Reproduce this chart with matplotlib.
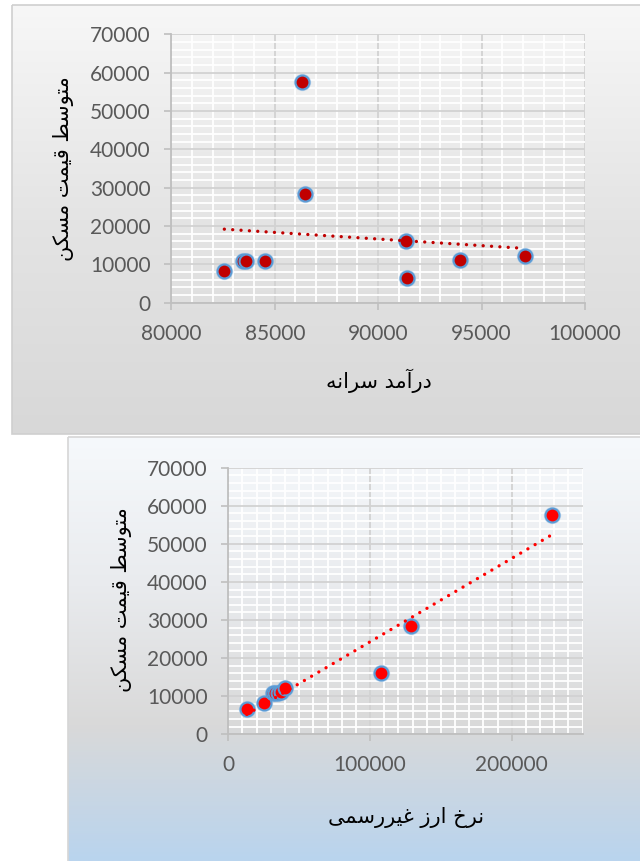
import matplotlib
matplotlib.use("Agg")
import matplotlib.pyplot as plt
from matplotlib.ticker import MultipleLocator, StrMethodFormatter
from matplotlib.patches import Rectangle
import numpy as np

# values (same house price series in both)
price = [8261, 10870, 10900, 10870, 57500, 28350, 16000, 6522, 11217, 12261]
income = [82560, 83480, 83590, 84530, 86320, 86480, 91350, 91390, 93960, 97080]
fx_rate = [25400, 31700, 33000, 35000, 228700, 129000, 107700, 13000, 37000, 40000]

ylabel_txt = "متوسط قیمت مسکن"
xlabel_top = "درآمد سرانه"
xlabel_bottom = "نرخ ارز غیررسمی"

# matplotlib has no arabic shaping, so pick presentation forms by hand
# (isolated, final, initial, medial) - None means letter does not join forward
FORMS = {
    'ا': ('\uFE8D', '\uFE8E', None, None),
    'آ': ('\uFE81', '\uFE82', None, None),
    'د': ('\uFEA9', '\uFEAA', None, None),
    'ر': ('\uFEAD', '\uFEAE', None, None),
    'ز': ('\uFEAF', '\uFEB0', None, None),
    'و': ('\uFEED', '\uFEEE', None, None),
    'ت': ('\uFE95', '\uFE96', '\uFE97', '\uFE98'),
    'خ': ('\uFEA5', '\uFEA6', '\uFEA7', '\uFEA8'),
    'س': ('\uFEB1', '\uFEB2', '\uFEB3', '\uFEB4'),
    'ط': ('\uFEC1', '\uFEC2', '\uFEC3', '\uFEC4'),
    'غ': ('\uFECD', '\uFECE', '\uFECF', '\uFED0'),
    'ق': ('\uFED5', '\uFED6', '\uFED7', '\uFED8'),
    'م': ('\uFEE1', '\uFEE2', '\uFEE3', '\uFEE4'),
    'ن': ('\uFEE5', '\uFEE6', '\uFEE7', '\uFEE8'),
    'ه': ('\uFEE9', '\uFEEA', '\uFEEB', '\uFEEC'),
    'ی': ('\uFBFC', '\uFBFD', '\uFBFE', '\uFBFF'),
    'ک': ('\uFB8E', '\uFB8F', '\uFB90', '\uFB91'),
}


def shape(s):
    out = []
    for i, ch in enumerate(s):
        if ch not in FORMS:
            out.append(ch)
            continue
        prev = s[i - 1] if i > 0 else ''
        nxt = s[i + 1] if i + 1 < len(s) else ''
        f = FORMS[ch]
        jp = prev in FORMS and FORMS[prev][2] is not None
        jn = f[2] is not None and nxt in FORMS
        if jp and jn:
            out.append(f[3])
        elif jp:
            out.append(f[1])
        elif jn:
            out.append(f[2])
        else:
            out.append(f[0])
    return ''.join(reversed(out))


plt.rcParams['font.family'] = ['Lato', 'DejaVu Sans']

W, H = 640, 861
fig = plt.figure(figsize=(6.4, 8.61), dpi=100)

# background panels (pixel coords)
bg = fig.add_axes([0, 0, 1, 1], zorder=-5)
bg.set_xlim(0, W)
bg.set_ylim(H, 0)
bg.axis('off')


def gradient(stops, n=256):
    pos = np.array([p for p, c in stops])
    cols = np.array([matplotlib.colors.to_rgb(c) for p, c in stops])
    t = np.linspace(0, 1, n)
    g = np.stack([np.interp(t, pos, cols[:, k]) for k in range(3)], axis=1)
    return g[:, None, :]


bg.imshow(gradient([(0, '#f7f7f7'), (0.5, '#e4e4e4'), (1, '#d8d8d8')]),
          extent=(12, 640, 434, 5), aspect='auto', origin='upper')
bg.add_patch(Rectangle((12, 5), 640, 429, fill=False, ec='#cfcfcf', lw=1.2))
bg.imshow(gradient([(0, '#f6f9fc'), (0.35, '#e9ebee'), (0.68, '#d9d9d9'), (1, '#b9d4ee')]),
          extent=(68, 640, 861, 437), aspect='auto', origin='upper')
bg.add_patch(Rectangle((68, 437), 640, 430, fill=False, ec='#d6d6d6', lw=1.2))
bg.set_xlim(0, W)
bg.set_ylim(H, 0)


def px_axes(left, right, top, bottom):
    return fig.add_axes([left / W, 1 - bottom / H, (right - left) / W, (bottom - top) / H])


def style(ax, xmaj, xmin):
    ax.patch.set_alpha(0)
    ax.set_axisbelow(True)
    ax.xaxis.set_major_locator(MultipleLocator(xmaj))
    ax.xaxis.set_minor_locator(MultipleLocator(xmin))
    ax.yaxis.set_major_locator(MultipleLocator(10000))
    ax.yaxis.set_minor_locator(MultipleLocator(2000))
    ax.xaxis.set_major_formatter(StrMethodFormatter('{x:.0f}'))
    ax.yaxis.set_major_formatter(StrMethodFormatter('{x:.0f}'))
    ax.grid(which='minor', color='white', lw=1.3)
    ax.grid(which='major', color='#d2d2d2', lw=1.3)
    for sp in ['top', 'right']:
        ax.spines[sp].set_visible(False)
    for sp in ['left', 'bottom']:
        ax.spines[sp].set_color('#bfbfbf')
        ax.spines[sp].set_linewidth(1.3)
    ax.tick_params(which='major', length=5, width=1.2, color='#bfbfbf',
                   labelcolor='#595959', labelsize=15, pad=10)
    ax.tick_params(which='minor', length=0)


def draw(ax, xs, ys, fill, line):
    ax.plot(xs, ys, 'o', ms=12.5, color='#9dc3e6', alpha=0.55, mew=0, zorder=3)
    ax.plot(xs, ys, 'o', ms=10, mfc=fill, mec='#5b9bd5', mew=1.5, zorder=3)
    coef = np.polyfit(xs, ys, 1)
    tx = np.array([min(xs), max(xs)])
    ax.plot(tx, np.polyval(coef, tx), color=line, lw=2.4, ls=(0, (0.01, 2.5)),
            dash_capstyle='round', zorder=4)


ax1 = px_axes(171.4, 584.9, 34.3, 302.7)
style(ax1, 5000, 1000)
draw(ax1, income, price, '#c00000', '#c00000')
ax1.set_xlim(80000, 100000)
ax1.set_ylim(0, 70000)

ax2 = px_axes(228.3, 582.6, 467.7, 734.3)
style(ax2, 100000, 10000)
draw(ax2, fx_rate, price, '#ff0000', '#ff0000')
ax2.set_xlim(0, 250000)
ax2.set_ylim(0, 70000)

fa = ['DejaVu Sans']
fig.text(379 / W, 1 - 381 / H, shape(xlabel_top), family=fa, size=15,
         ha='center', va='center')
fig.text(64 / W, 1 - 168.5 / H, shape(ylabel_txt), family=fa, size=15,
         rotation=90, ha='center', va='center')
fig.text(406 / W, 1 - 817 / H, shape(xlabel_bottom), family=fa, size=15,
         ha='center', va='center')
fig.text(121 / W, 1 - 600 / H, shape(ylabel_txt), family=fa, size=15,
         rotation=90, ha='center', va='center')

fig.savefig('out.png', dpi=100)
